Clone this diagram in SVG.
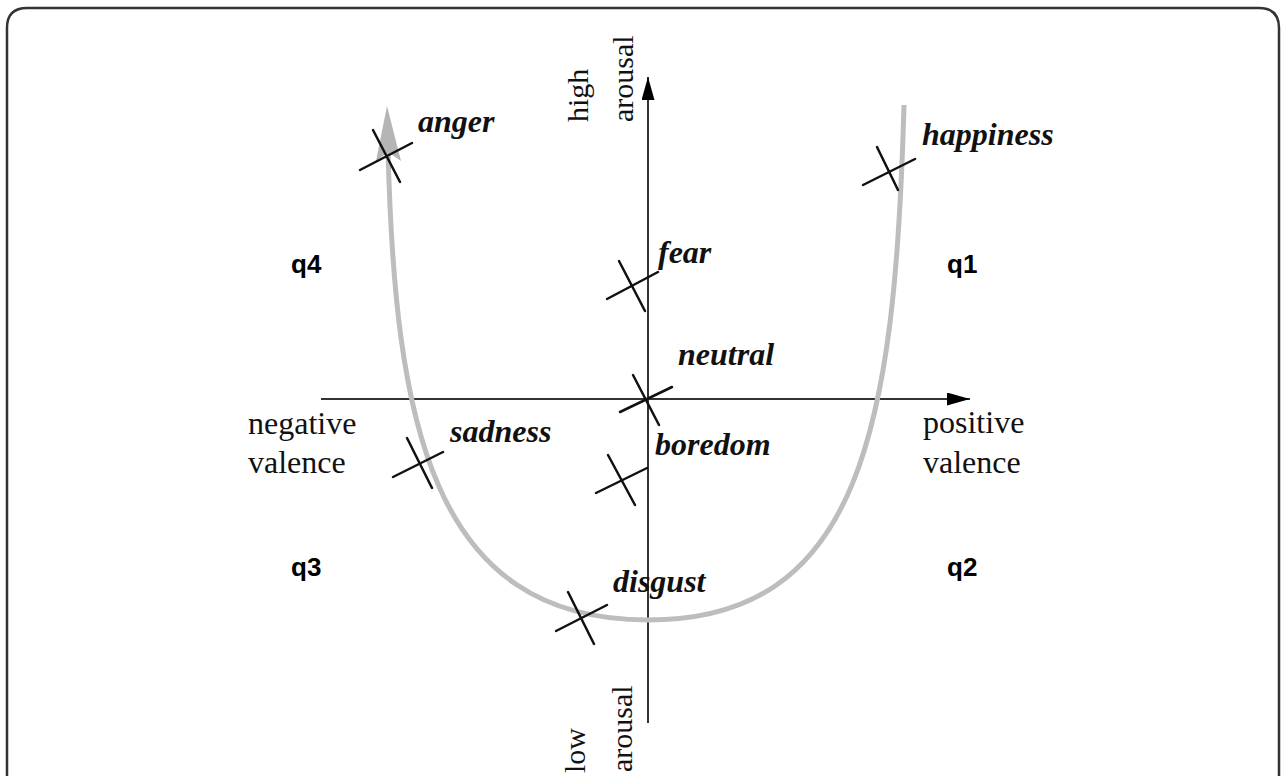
<svg xmlns="http://www.w3.org/2000/svg" width="1285" height="776" viewBox="0 0 1285 776">
<style>
.frame{fill:none;stroke:#333;stroke-width:2.5}
.axis{stroke:#333;stroke-width:2;fill:none}
.tick{stroke:#111;stroke-width:2.5;stroke-linecap:round}
.curve{fill:none;stroke:#bdbdbd;stroke-width:5}
.lbl{font-family:"Liberation Serif","Times New Roman",serif;font-size:32px;font-style:italic;font-weight:bold;fill:#111}
.ax{font-family:"Liberation Serif","Times New Roman",serif;font-size:32px;fill:#111}
.axr{font-family:"Liberation Serif","Times New Roman",serif;font-size:30px;fill:#111}
.q{font-family:"Liberation Sans",Arial,sans-serif;font-size:26px;font-weight:bold;fill:#000}
</style>
<defs>
<marker id="ah" markerUnits="userSpaceOnUse" markerWidth="24" markerHeight="13" refX="23" refY="6.5" orient="auto">
<path d="M0,0 L23,6.5 L0,13 z" fill="#000"/>
</marker>
</defs>
<rect width="1285" height="776" fill="#fff"/>
<path class="frame" d="M7,776 L7,28 Q7,8 27,8 L1259,8 Q1279,8 1279,28 L1279,776"/>
<g id="connectors">
<line class="axis" x1="648" y1="723" x2="648" y2="77" marker-end="url(#ah)"/>
<line class="axis" x1="321" y1="399" x2="970" y2="399" marker-end="url(#ah)"/>
<path class="curve" d="M388,150 C395,420 430,620 648,620 C860,620 895,430 904,105"/>
<path d="M387,106 L401,161 L388,152 L376,161 z" fill="#b5b5b5"/>
</g>
<g id="axis-labels">
<text class="axr" transform="translate(588,122) rotate(-90)">high</text>
<text class="axr" transform="translate(633,122) rotate(-90)">arousal</text>
<text class="axr" transform="translate(585,773) rotate(-90)">low</text>
<text class="axr" transform="translate(632,772) rotate(-90)">arousal</text>
<text class="ax" x="248" y="434">negative</text>
<text class="ax" x="248" y="473">valence</text>
<text class="ax" x="923" y="433">positive</text>
<text class="ax" x="923" y="473">valence</text>
</g>
<g id="q4"><text class="q" x="291" y="273">q4</text></g>
<g id="q1"><text class="q" x="947" y="273">q1</text></g>
<g id="q3"><text class="q" x="291" y="576">q3</text></g>
<g id="q2"><text class="q" x="947" y="576">q2</text></g>
<g id="anger">
<line class="tick" x1="373" y1="130" x2="400" y2="182"/>
<line class="tick" x1="360" y1="170" x2="412" y2="143"/>
<text class="lbl" x="418" y="132">anger</text>
</g>
<g id="happiness">
<line class="tick" x1="877" y1="147" x2="898" y2="190"/>
<line class="tick" x1="863" y1="185" x2="915" y2="159"/>
<text class="lbl" x="922" y="145">happiness</text>
</g>
<g id="fear">
<line class="tick" x1="619" y1="261" x2="645" y2="311"/>
<line class="tick" x1="607" y1="299" x2="658" y2="272"/>
<text class="lbl" x="658" y="263">fear</text>
</g>
<g id="neutral">
<line class="tick" x1="633" y1="375" x2="659" y2="425"/>
<line class="tick" x1="620" y1="412" x2="672" y2="387"/>
<text class="lbl" x="678" y="365">neutral</text>
</g>
<g id="boredom">
<line class="tick" x1="608" y1="455" x2="635" y2="505"/>
<line class="tick" x1="596" y1="493" x2="647" y2="468"/>
<text class="lbl" x="655" y="455">boredom</text>
</g>
<g id="sadness">
<line class="tick" x1="407" y1="438" x2="432" y2="488"/>
<line class="tick" x1="393" y1="477" x2="443" y2="452"/>
<text class="lbl" x="450" y="442">sadness</text>
</g>
<g id="disgust">
<line class="tick" x1="568" y1="592" x2="594" y2="644"/>
<line class="tick" x1="556" y1="631" x2="607" y2="605"/>
<text class="lbl" x="613" y="592">disgust</text>
</g>
</svg>
